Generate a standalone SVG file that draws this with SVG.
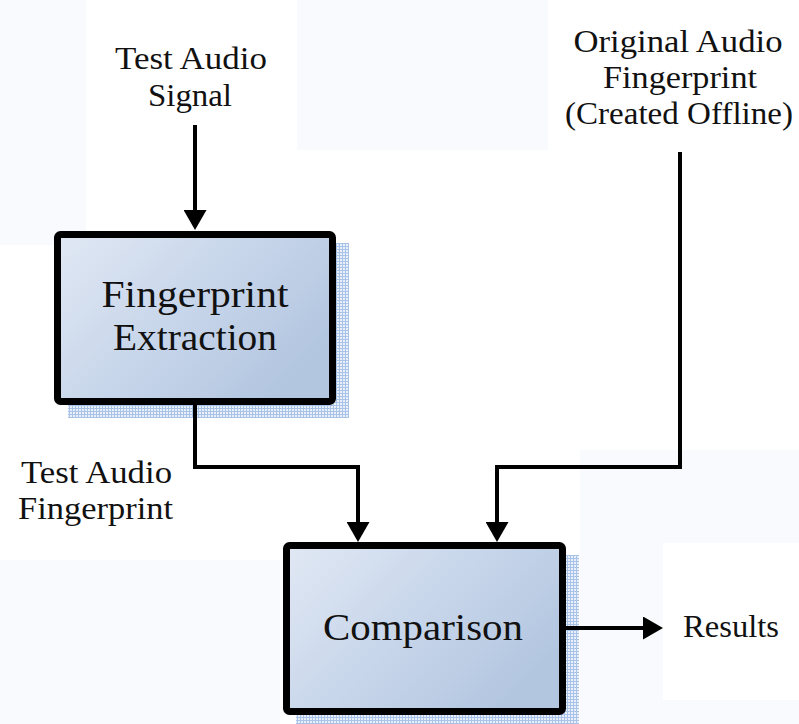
<svg xmlns="http://www.w3.org/2000/svg" width="799" height="724" viewBox="0 0 799 724">
  <style>
    .lbl { font-family: "Liberation Serif", "DejaVu Serif", serif; font-size: 32px; fill: #111; text-anchor: middle; }
    .title { font-family: "Liberation Serif", "DejaVu Serif", serif; font-size: 37px; fill: #111; text-anchor: middle; }
    .box { fill: url(#boxFill); stroke: #000; stroke-width: 7; }
    .shadow { fill: url(#mesh); }
    .wire { fill: none; stroke: #000; stroke-width: 4; stroke-linejoin: miter; }
    .haze { fill: #f8fafd; }
  </style>
  <defs>
    <linearGradient id="boxFill" x1="0" y1="0" x2="1" y2="0.6">
      <stop offset="0" stop-color="#e1e8f4"/>
      <stop offset="0.5" stop-color="#c9d7eb"/>
      <stop offset="1" stop-color="#b3c6e0"/>
    </linearGradient>
    <pattern id="mesh" width="3" height="3" patternUnits="userSpaceOnUse">
      <rect width="3" height="3" fill="#a9c2e7"/>
      <rect x="1" y="1" width="2" height="2" fill="#e9f0fa"/>
    </pattern>
    <marker id="head" viewBox="0 0 20 23" refX="2" refY="11.5" markerWidth="20" markerHeight="23" markerUnits="userSpaceOnUse" orient="auto">
      <path d="M0,0 L20,11.5 L0,23 Z" fill="#000"/>
    </marker>
  </defs>

  <!-- page background with faint tinted patches -->
  <rect width="799" height="724" fill="#ffffff"/>
  <rect class="haze" x="0" y="0" width="86" height="245"/>
  <rect class="haze" x="297" y="0" width="251" height="150"/>
  <rect class="haze" x="0" y="560" width="280" height="164"/>
  <rect class="haze" x="580" y="450" width="219" height="274"/>
  <rect x="663" y="543" width="136" height="157" fill="#ffffff"/>

  <!-- input labels -->
  <g id="label-test-signal">
    <text class="lbl" x="191" y="69" textLength="152" lengthAdjust="spacingAndGlyphs">Test Audio</text>
    <text class="lbl" x="190" y="106" textLength="84" lengthAdjust="spacingAndGlyphs">Signal</text>
  </g>
  <g id="label-original">
    <text class="lbl" x="678" y="52" textLength="209" lengthAdjust="spacingAndGlyphs">Original Audio</text>
    <text class="lbl" x="680" y="88" textLength="154" lengthAdjust="spacingAndGlyphs">Fingerprint</text>
    <text class="lbl" x="679" y="124" textLength="228" lengthAdjust="spacingAndGlyphs">(Created Offline)</text>
  </g>
  <g id="label-test-fingerprint">
    <text class="lbl" x="96.5" y="483" textLength="151" lengthAdjust="spacingAndGlyphs">Test Audio</text>
    <text class="lbl" x="95.5" y="519" textLength="155" lengthAdjust="spacingAndGlyphs">Fingerprint</text>
  </g>
  <g id="label-results">
    <text class="lbl" x="731" y="637" textLength="96" lengthAdjust="spacingAndGlyphs">Results</text>
  </g>

  <!-- processing blocks -->
  <g id="node-extraction">
    <rect class="shadow" x="68" y="243" width="281" height="175"/>
    <rect class="box" x="57.5" y="234.5" width="275" height="167" rx="3"/>
    <text class="title" x="195" y="307" textLength="187" lengthAdjust="spacingAndGlyphs">Fingerprint</text>
    <text class="title" x="195" y="350" textLength="164" lengthAdjust="spacingAndGlyphs">Extraction</text>
  </g>
  <g id="node-comparison">
    <rect class="shadow" x="296" y="555" width="283" height="175"/>
    <rect class="box" x="286.5" y="545.5" width="276" height="166" rx="3"/>
    <text class="title" x="423" y="640" textLength="200" lengthAdjust="spacingAndGlyphs">Comparison</text>
  </g>

  <!-- connectors -->
  <g id="connectors">
    <path class="wire" d="M195,125 V212" marker-end="url(#head)"/>
    <path class="wire" d="M195,405 V467 H358 V524" marker-end="url(#head)"/>
    <path class="wire" d="M680,152 V467 H497 V524" marker-end="url(#head)"/>
    <path class="wire" d="M566,628 H645" marker-end="url(#head)"/>
  </g>
</svg>
